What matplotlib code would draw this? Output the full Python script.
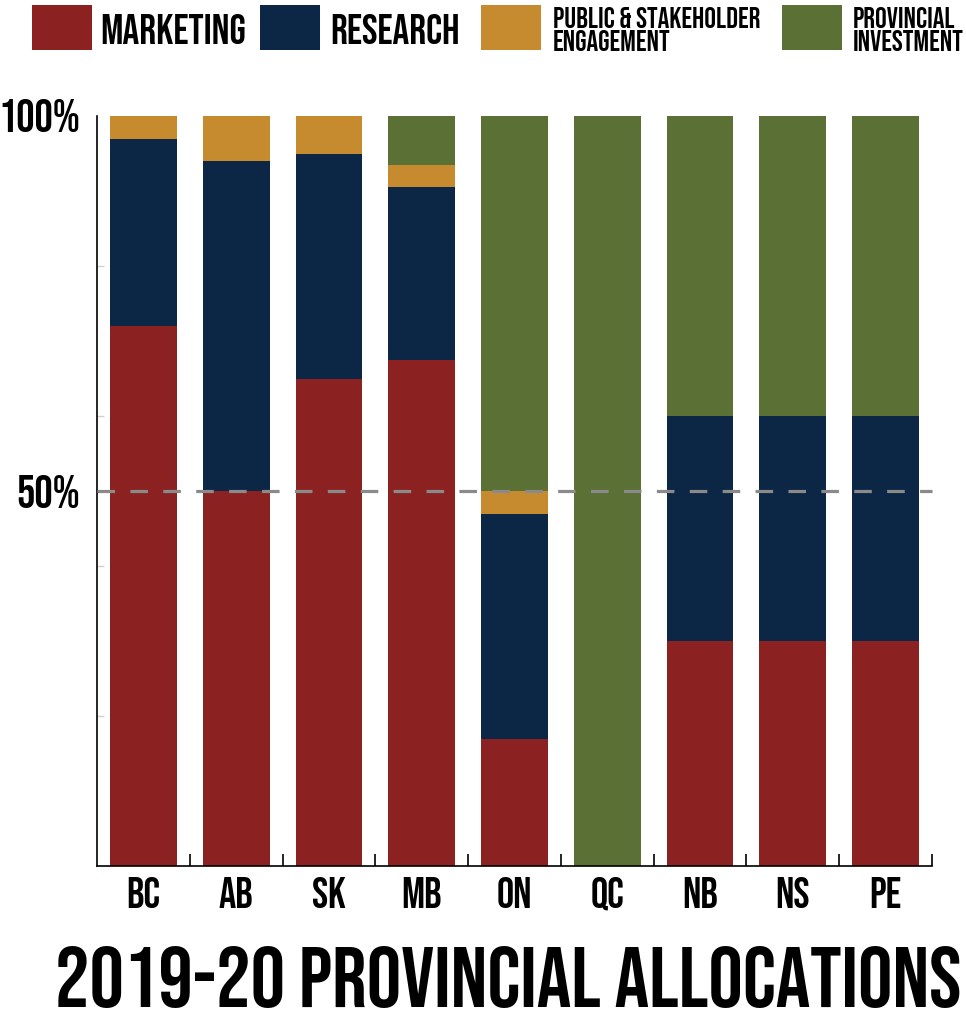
import matplotlib
matplotlib.use('Agg')
import matplotlib.pyplot as plt
from matplotlib.patches import Rectangle
import numpy as np

# data (percent of each province's allocation)
provinces = ['BC', 'AB', 'SK', 'MB', 'ON', 'QC', 'NB', 'NS', 'PE']
marketing = [72, 50, 65, 67.5, 17, 0, 30, 30, 30]
research = [25, 44, 30, 23, 30, 0, 30, 30, 30]
public = [3, 6, 5, 3, 3, 0, 0, 0, 0]
investment = [0, 0, 0, 6.5, 50, 100, 40, 40, 40]

labels = ['MARKETING', 'RESEARCH', 'PUBLIC & STAKEHOLDER\nENGAGEMENT', 'PROVINCIAL\nINVESTMENT']
colors = ['#8b2120', '#0c2646', '#c68a2f', '#5a7034']

plt.rcParams['font.family'] = ['Bebas Neue', 'DejaVu Sans']

fig = plt.figure(figsize=(9.66, 10.24), dpi=100)
ax = fig.add_axes([97/966, 158/1024, 835/966, 750/1024])

x = np.arange(len(provinces))
bottom = np.zeros(len(provinces))
for vals, col in zip([marketing, research, public, investment], colors):
    ax.bar(x, vals, width=0.72, bottom=bottom, color=col, linewidth=0, zorder=2)
    bottom += np.array(vals)

#dashed 50% line
ax.axhline(50, color='#8a8a8a', lw=2.3, ls=(0, (5.5, 4.8)), zorder=3, clip_on=False)

ax.set_xlim(-0.5, 8.5)
ax.set_ylim(0, 100)
for s in ['top', 'right']:
    ax.spines[s].set_visible(False)
ax.spines['left'].set_linewidth(1.2)
ax.spines['bottom'].set_linewidth(1.2)

ax.set_xticks(x)
ax.set_xticklabels(provinces, fontsize=31)
ax.set_xticks(np.arange(0.5, 9, 1), minor=True)
ax.tick_params(axis='x', which='major', length=0, pad=8)
ax.tick_params(axis='x', which='minor', direction='in', length=9, width=1.2)

ax.set_yticks([50, 100])
ax.set_yticklabels(['50%', '100%'], fontsize=33)
ax.set_yticks([20, 40, 60, 80], minor=True)
ax.tick_params(axis='y', which='major', length=0, pad=12)
ax.tick_params(axis='y', which='minor', direction='in', length=5, width=1, color='#d0d0d0')

fig.text(508/966, 1 - 977/1024, '2019-20 PROVINCIAL ALLOCATIONS', ha='center', va='center', fontsize=62)

# legend drawn by hand across the top
patch_x = [32, 260, 481, 782]
text_x = [100, 330, 553, 853]
sizes = [30, 30, 21, 21]
for px, tx, lab, col, fs in zip(patch_x, text_x, labels, colors, sizes):
    fig.add_artist(Rectangle((px/966, 1 - 50/1024), 60/966, 45/1024, transform=fig.transFigure,
                             color=col, linewidth=0))
    fig.text(tx/966, 1 - 29/1024, lab, ha='left', va='center', fontsize=fs, linespacing=1.1)

fig.savefig('out.png', dpi=100)
